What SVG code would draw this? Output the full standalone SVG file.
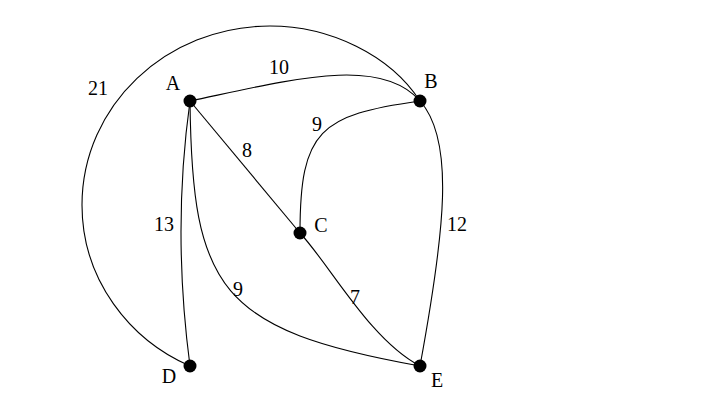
<svg xmlns="http://www.w3.org/2000/svg" width="720" height="405" viewBox="0 0 720 405">
<style>
.e{fill:none;stroke:#000;stroke-width:1.1}
.n{fill:#000}
text{font-family:"Liberation Serif","DejaVu Serif",serif;font-size:20px;fill:#000;text-anchor:middle}
</style>
<rect width="720" height="405" fill="#fff"/>
<g id="connectors">
<path class="e" d="M190,366 C130,340 82,280 82,205 C82,106 166,26 270,26 C330,26 390,55 420,101"/>
<path class="e" d="M190,101 C290,80 380,55 420,101"/>
<path class="e" d="M420,101 C320,115 300,130 300,233"/>
<path class="e" d="M190,101 L300,233"/>
<path class="e" d="M190,101 Q172,230 190,366"/>
<path class="e" d="M190,101 C192,290 220,330 420,366"/>
<path class="e" d="M300,233 C330,265 370,340 420,366"/>
<path class="e" d="M420,101 C455,140 445,230 420,366"/>
</g>
<g id="edge-labels">
<text x="98" y="95">21</text>
<text x="279" y="74">10</text>
<text x="317" y="131">9</text>
<text x="247" y="157">8</text>
<text x="164" y="231">13</text>
<text x="457" y="231">12</text>
<text x="238" y="296">9</text>
<text x="355" y="304">7</text>
</g>
<g id="node-A"><circle class="n" cx="190" cy="101" r="6.5"/><text x="173" y="90">A</text></g>
<g id="node-B"><circle class="n" cx="420" cy="101" r="6.5"/><text x="431" y="88">B</text></g>
<g id="node-C"><circle class="n" cx="300" cy="233" r="6.5"/><text x="321" y="232">C</text></g>
<g id="node-D"><circle class="n" cx="190" cy="366" r="6.5"/><text x="169" y="383">D</text></g>
<g id="node-E"><circle class="n" cx="420" cy="366" r="6.5"/><text x="437" y="387">E</text></g>
</svg>
